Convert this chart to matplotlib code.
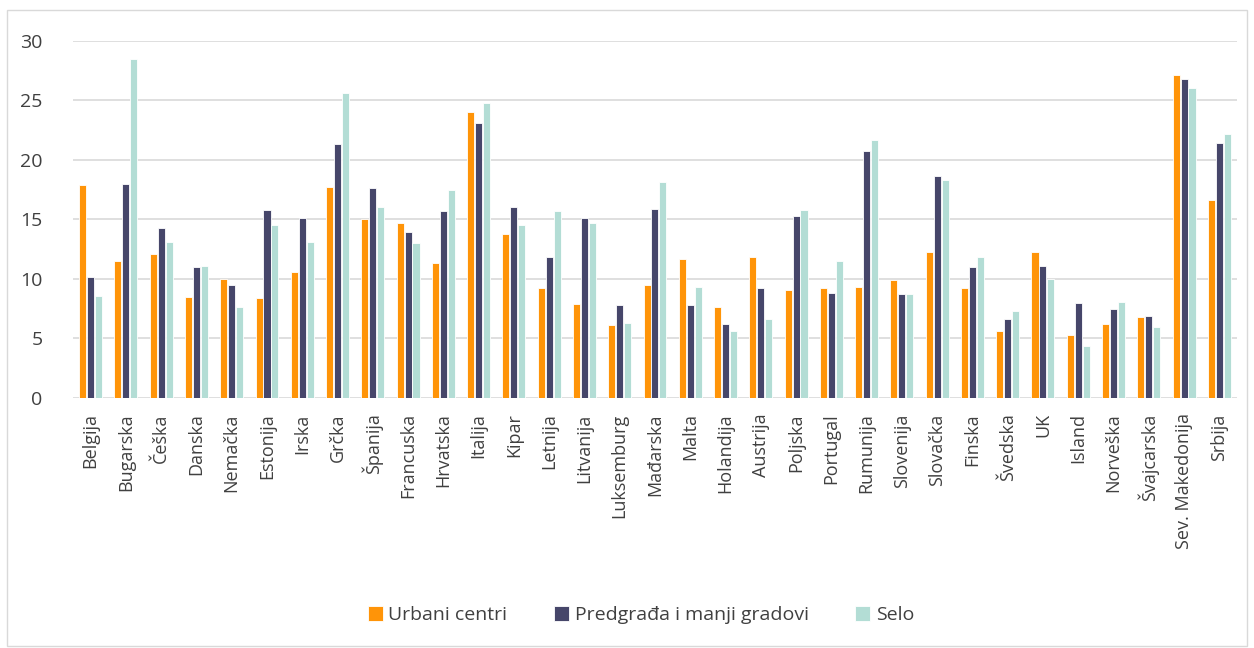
import numpy as np
import matplotlib
matplotlib.use('Agg')
import matplotlib.pyplot as plt
from matplotlib.patches import Rectangle

countries = ['Belgija', 'Bugarska', 'Češka', 'Danska', 'Nemačka', 'Estonija', 'Irska',
             'Grčka', 'Španija', 'Francuska', 'Hrvatska', 'Italija', 'Kipar', 'Letnija',
             'Litvanija', 'Luksemburg', 'Mađarska', 'Malta', 'Holandija', 'Austrija',
             'Poljska', 'Portugal', 'Rumunija', 'Slovenija', 'Slovačka', 'Finska',
             'Švedska', 'UK', 'Island', 'Norveška', 'Švajcarska', 'Sev. Makedonija', 'Srbija']
urbani = [17.9, 11.5, 12.1, 8.5, 10.0, 8.4, 10.6, 17.7, 15.0, 14.7, 11.3, 24.0, 13.8, 9.2,
          7.9, 6.1, 9.5, 11.7, 7.6, 11.8, 9.1, 9.2, 9.3, 9.9, 12.3, 9.2, 5.6, 12.3, 5.3,
          6.2, 6.8, 27.1, 16.6]
predgradja = [10.2, 18.0, 14.3, 11.0, 9.5, 15.8, 15.1, 21.3, 17.6, 13.9, 15.7, 23.1, 16.0,
              11.8, 15.1, 7.8, 15.9, 7.8, 6.2, 9.2, 15.3, 8.8, 20.7, 8.7, 18.6, 11.0, 6.6,
              11.1, 8.0, 7.5, 6.9, 26.8, 21.4]
selo = [8.6, 28.5, 13.1, 11.1, 7.6, 14.5, 13.1, 25.6, 16.0, 13.0, 17.5, 24.8, 14.5, 15.7,
        14.7, 6.3, 18.1, 9.3, 5.6, 6.6, 15.8, 11.5, 21.7, 8.7, 18.3, 11.8, 7.3, 10.0, 4.4,
        8.1, 6.0, 26.0, 22.2]
series = ['Urbani centri', 'Predgrađa i manji gradovi', 'Selo']
colors = ['#FF9408', '#46466A', '#B3DDD5']

plt.rcParams['font.family'] = ['Open Sans', 'DejaVu Sans']

fig = plt.figure(figsize=(12.54, 6.48), dpi=100)
fig.patches.append(Rectangle((7 / 1254, 2 / 648), 1240 / 1254, 636 / 648,
                             transform=fig.transFigure, fill=False,
                             edgecolor='#D9D9D9', linewidth=1))
ax = fig.add_axes([0.0582, 0.3858, 0.9282, 0.5514])

x = np.arange(len(countries))
for i, (vals, lab, c) in enumerate(zip([urbani, predgradja, selo], series, colors)):
    ax.bar(x + (i - 1) * 0.225, vals, width=0.2, color=c, label=lab,
           edgecolor='white', linewidth=0.6, zorder=3)

ax.set_xlim(-0.5, len(countries) - 0.5)
ax.set_ylim(0, 30)
ax.set_yticks(range(0, 31, 5))
ax.grid(axis='y', color='#D9D9D9', linewidth=1.2, zorder=0)
for s in ax.spines.values():
    s.set_visible(False)
ax.set_xticks(x)
ax.set_xticklabels(countries, rotation=90, fontsize=13, color='#404040')
ax.tick_params(axis='x', length=0, pad=11)
ax.tick_params(axis='y', length=0, pad=22, labelsize=14, labelcolor='#404040')

ax.legend(loc='center', bbox_to_anchor=(0.488, -0.608), ncol=3, frameon=False,
          fontsize=14, handlelength=0.75, handleheight=0.75, handletextpad=0.3,
          columnspacing=2.4, labelcolor='#404040')

fig.savefig('out.png', dpi=100)
